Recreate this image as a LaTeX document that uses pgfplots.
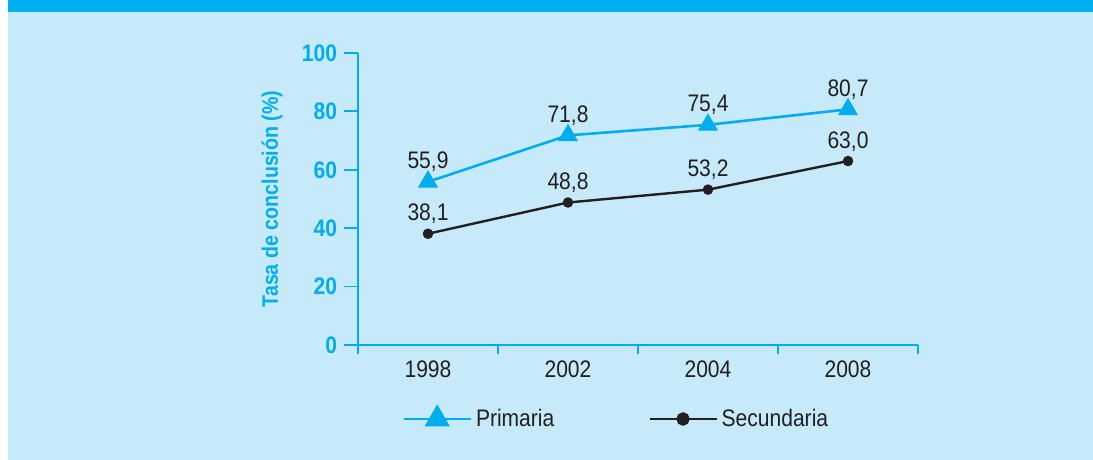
\documentclass[border=0pt]{standalone}
\usepackage{fontspec}
\setmainfont{Liberation Sans}[FakeStretch=0.88]
\usepackage{pgfplots}
\pgfplotsset{compat=1.18}
\definecolor{cian}{HTML}{00AEEF}
\definecolor{fondo}{HTML}{C6EAF9}
\definecolor{tinta}{HTML}{231F20}
\newcommand{\fnt}{\fontsize{12pt}{13.5pt}\selectfont}

\begin{document}
\begin{tikzpicture}
\useasboundingbox (0bp,0bp) rectangle (546.5bp,230bp);
\fill[white] (0bp,0bp) rectangle (546.5bp,230bp);
\fill[fondo] (4bp,0bp) rectangle (546.5bp,224bp);
\fill[cian] (4bp,224bp) rectangle (546.5bp,230bp);
\begin{axis}[
  at={(179bp,57.5bp)}, anchor=south west,
  scale only axis, width=280bp, height=146bp,
  xmin=0.5, xmax=4.5, ymin=0, ymax=100,
  axis x line*=bottom, axis y line*=left,
  axis line style={cian, line width=0.9bp, -},
  tick align=outside,
  tick style={cian, line width=0.9bp},
  major tick length=4.5bp,
  xtick={0.5,1.5,2.5,3.5,4.5},
  xticklabels={1998,2002,2004,2008},
  x tick label as interval,
  xticklabel style={font=\fnt, text=tinta},
  ytick=\empty,
  extra y ticks={0,20,40,60,80,100},
  extra y tick style={major tick length=7bp},
  yticklabel style={font=\fnt\bfseries, text=cian},
  /pgf/number format/assume math mode=true,
  ylabel={Tasa de conclusión (\%)},
  ylabel style={font=\fontsize{11.2pt}{12pt}\selectfont\bfseries, text=cian,
    at={(axis description cs:-0.1536,0.5)}, anchor=center, rotate=0},
  nodes near coords={\pgfmathprintnumber[fixed, fixed zerofill, precision=1, use comma]{\pgfplotspointmeta}},
  nodes near coords style={anchor=base, yshift=6.5bp, inner sep=0pt, text=tinta, font=\fnt},
  legend entries={Primaria,Secundaria},
  legend style={at={(axis description cs:0.0786,-0.2534)}, anchor=west,
    draw=none, fill=none, legend columns=2, font=\fnt, text=tinta, inner sep=0pt,
    /tikz/every even column/.append style={column sep=45bp}},
  legend image code/.code={\draw[mark repeat=2, mark phase=2, #1]
    plot coordinates {(0bp,0bp) (16.75bp,0bp) (33.5bp,0bp)};},
]
\addplot[cian, line width=1.3bp, mark=triangle*, mark size=4.5bp,
  legend image post style={mark size=6bp}]
  coordinates {(1,55.9) (2,71.8) (3,75.4) (4,80.7)};
\addplot[tinta, line width=1.2bp, mark=*, mark size=2bp,
  legend image post style={mark size=2.75bp}]
  coordinates {(1,38.1) (2,48.8) (3,53.2) (4,63.0)};
\end{axis}
\end{tikzpicture}
\end{document}
